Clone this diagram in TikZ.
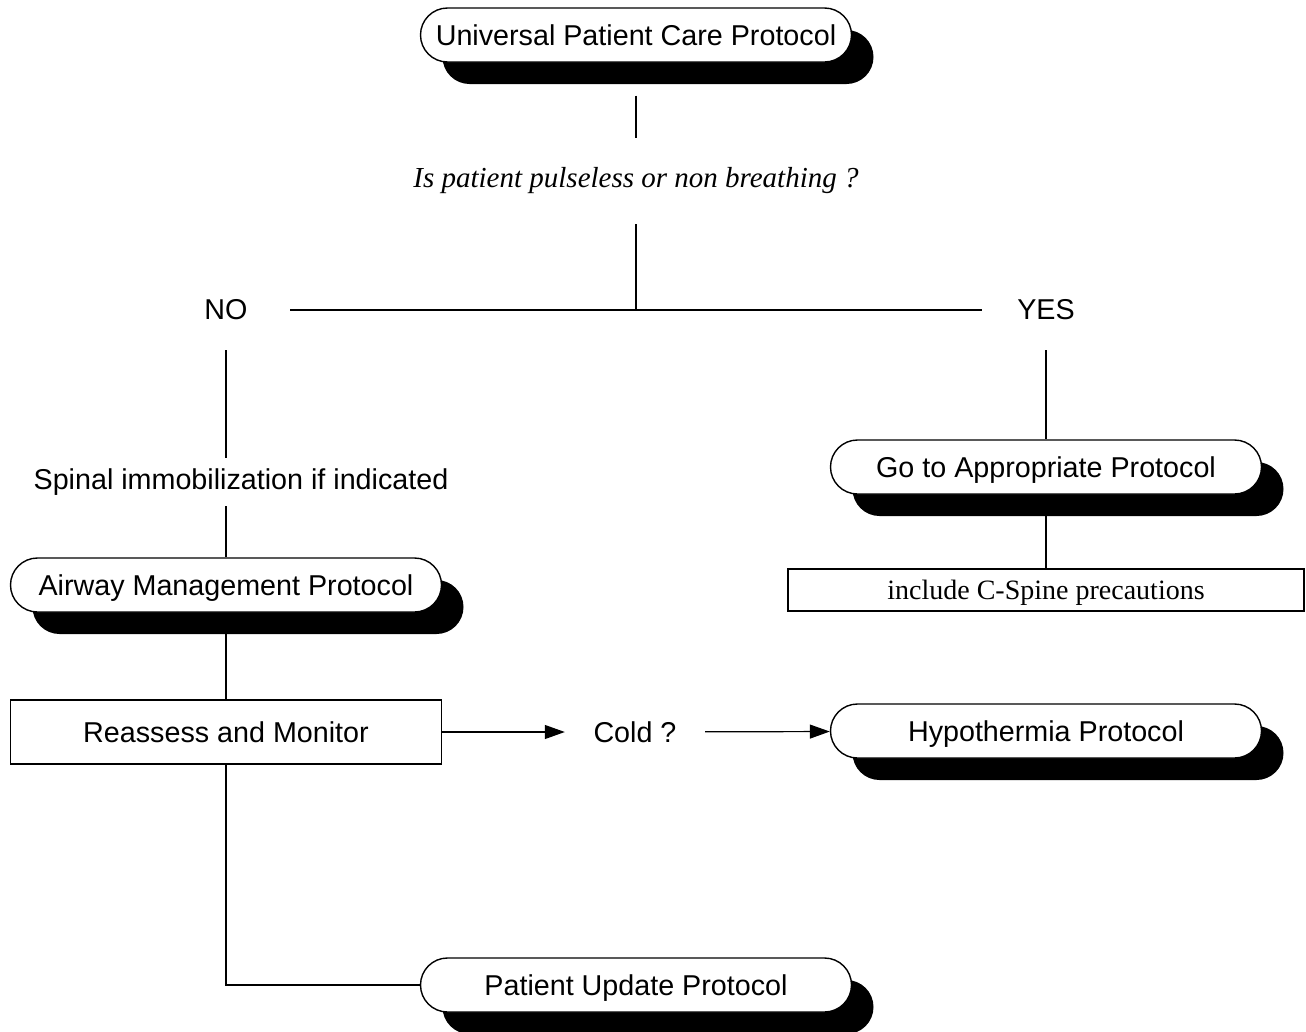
\documentclass[tikz,border=0pt]{standalone}
\usepackage{fontspec}
\setmainfont{Liberation Sans}
\newfontfamily\timesfont{Liberation Serif}
\usetikzlibrary{shadows,backgrounds,arrows.meta}

\begin{document}
\begin{tikzpicture}[x=1pt, y=-1pt,
  every node/.style={font=\fontsize{28.7}{33}\selectfont, inner sep=0pt},
  protocol/.style={draw, line width=1.4pt, fill=white, rounded corners=27pt,
    minimum width=431pt, minimum height=54pt, text height=21pt, text depth=0pt,
    drop shadow={shadow xshift=22pt, shadow yshift=-22pt, fill=black, opacity=1}},
  plainbox/.style={draw, line width=1.4pt, fill=white},
  label/.style={},
  link/.style={line width=1.2pt},
  flow/.style={link, -{Triangle[length=20pt, width=14pt]}}
]
\useasboundingbox (0,0) rectangle (1306,1031);

% protocol boxes
\node[protocol] (ucp)    at (636,35)   {Universal Patient Care Protocol};
\node[protocol] (airway) at (226,585)  {Airway Management Protocol};
\node[protocol] (goto)   at (1046,467) {Go to Appropriate Protocol};
\node[protocol] (hypo)   at (1046,731) {Hypothermia Protocol};
\node[protocol] (pup)    at (636,985)  {Patient Update Protocol};

% plain boxes
\node[plainbox, minimum width=431pt, minimum height=64pt, text height=21pt, text depth=0pt] (reassess) at (226,732) {Reassess and Monitor};
\node[plainbox, minimum width=516pt, minimum height=42pt, text height=19pt, text depth=0pt,
      font=\timesfont\fontsize{28}{32}\selectfont] (cspine) at (1046,590) {include C-Spine precautions};

% decision texts
\node[label, minimum height=86pt, font=\timesfont\itshape\fontsize{29}{33}\selectfont] (q) at (636,181) {Is patient pulseless or non breathing ?};
\node[label, minimum width=128pt, minimum height=80pt] (no)  at (226,310)  {NO};
\node[label, minimum width=128pt, minimum height=80pt] (yes) at (1046,310) {YES};
\node[label, minimum height=48pt] (spinal) at (241,482) {Spinal immobilization if indicated};
\node[label, minimum width=140pt] (cold) at (635,732) {Cold ?};
\coordinate (split) at (636,310);

% connectors
\begin{scope}[on background layer]
  \draw[link, shorten <=33pt] (ucp) -- (q);
  \draw[link] (q) -- (split);
  \draw[link] (no) -- (yes);
  \draw[link] (no.south) -- (no.south |- spinal.north);
  \draw[link] (airway.north |- spinal.south) -- (airway.north);
  \draw[link] (airway) -- (reassess);
  \draw[link] (yes) -- (goto);
  \draw[link] (goto) -- (cspine);
  \draw[link] (reassess.south) |- (pup.west);
\end{scope}
\draw[flow] (reassess) -- (cold);
\draw[flow] (cold) -- (hypo);
\end{tikzpicture}
\end{document}
